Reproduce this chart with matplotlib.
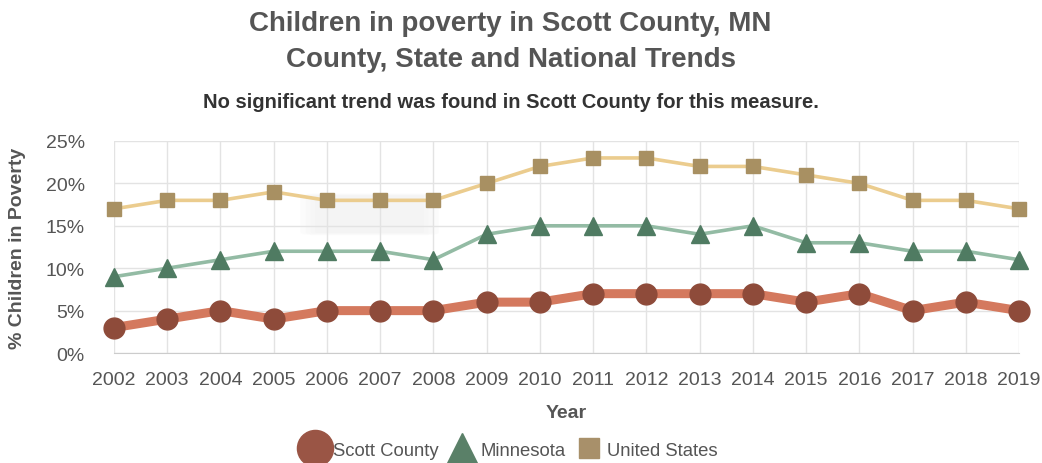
import matplotlib
matplotlib.use("Agg")
import matplotlib.pyplot as plt
from matplotlib.lines import Line2D
from matplotlib.patches import FancyBboxPatch
from matplotlib.ticker import FuncFormatter

years = [2002, 2003, 2004, 2005, 2006, 2007, 2008, 2009, 2010,
         2011, 2012, 2013, 2014, 2015, 2016, 2017, 2018, 2019]
scott_county = [3, 4, 5, 4, 5, 5, 5, 6, 6, 7, 7, 7, 7, 6, 7, 5, 6, 5]
minnesota = [9, 10, 11, 12, 12, 12, 11, 14, 15, 15, 15, 14, 15, 13, 13, 12, 12, 11]
united_states = [17, 18, 18, 19, 18, 18, 18, 20, 22, 23, 23, 22, 22, 21, 20, 18, 18, 17]
y_ticks = [0, 5, 10, 15, 20, 25]

plt.rcParams['font.family'] = ['Liberation Sans', 'DejaVu Sans']

fig = plt.figure(figsize=(10.42, 4.64), dpi=100)
ax = fig.add_axes([0.1094, 0.237, 0.8686, 0.457])

text_gray = '#555555'

# soft haze block behind the 2006-2008 segment, beneath the grid
for pad in [0.3, 0.2, 0.1, 0.02]:
    ax.add_patch(FancyBboxPatch((2005.8, 14.2), 2.0, 4.3,
                                boxstyle=f"round,pad={pad}",
                                facecolor='#ececec', edgecolor='none',
                                alpha=0.16, zorder=0.2))

ax.plot(years, united_states, color='#ebcc8e', lw=2.6, zorder=3)
ax.plot(years, united_states, ls='none', marker='s', ms=10, color='#a89062',
        mec='#a89062', zorder=4)
ax.plot(years, minnesota, color='#93bba4', lw=2.6, zorder=3)
ax.plot(years, minnesota, ls='none', marker='^', ms=13, color='#4f7b62',
        mec='#4f7b62', zorder=4)
ax.plot(years, scott_county, color='#d4795e', lw=6.5, zorder=3, solid_capstyle='round')
ax.plot(years, scott_county, ls='none', marker='o', ms=15, color='#8e4b3a',
        mec='#8e4b3a', zorder=5)

ax.set_xlim(2002, 2019)
ax.set_ylim(0, 25)
ax.set_xticks(years)
ax.set_yticks(y_ticks)
ax.yaxis.set_major_formatter(FuncFormatter(lambda v, p: f"{int(v)}%"))
ax.grid(True, color='#e3e3e3', lw=1)
ax.set_axisbelow(True)
for s in ['top', 'right', 'left']:
    ax.spines[s].set_visible(False)
ax.spines['bottom'].set_color('#cccccc')
ax.tick_params(axis='both', length=0, labelsize=14, colors=text_gray)
ax.tick_params(axis='x', pad=13)
ax.tick_params(axis='y', pad=21)
for ln in ax.lines:
    ln.set_clip_on(False)

ax.set_xlabel('Year', fontsize=14, fontweight='bold', color=text_gray)
ax.set_ylabel('% Children in Poverty', fontsize=14, fontweight='bold', color=text_gray)
ax.xaxis.set_label_coords(0.5, -0.24)
ax.yaxis.set_label_coords(-0.097, 0.5)

fig.text(0.49, 0.948, 'Children in poverty in Scott County, MN', ha='center', va='center',
         fontsize=20, fontweight='bold', color=text_gray)
fig.text(0.49, 0.871, 'County, State and National Trends', ha='center', va='center',
         fontsize=20, fontweight='bold', color=text_gray)
fig.text(0.49, 0.779, 'No significant trend was found in Scott County for this measure.',
         ha='center', va='center', fontsize=14.5, fontweight='bold', color='#333333')

handles = [
    Line2D([], [], ls='none', marker='o', ms=26, color='#9a5545', mec='#9a5545'),
    Line2D([], [], ls='none', marker='^', ms=22, color='#5a8068', mec='#5a8068'),
    Line2D([], [], ls='none', marker='s', ms=15, color='#a8906a', mec='#a8906a'),
]
fig.legend(handles, ['Scott County', 'Minnesota', 'United States'], loc='center',
           bbox_to_anchor=(0.487, 0.028), ncol=3, frameon=False, fontsize=13.3,
           handlelength=1.9, handletextpad=0.05, columnspacing=0.3,
           labelcolor=text_gray)

fig.savefig('out.png', dpi=100, facecolor='white')
